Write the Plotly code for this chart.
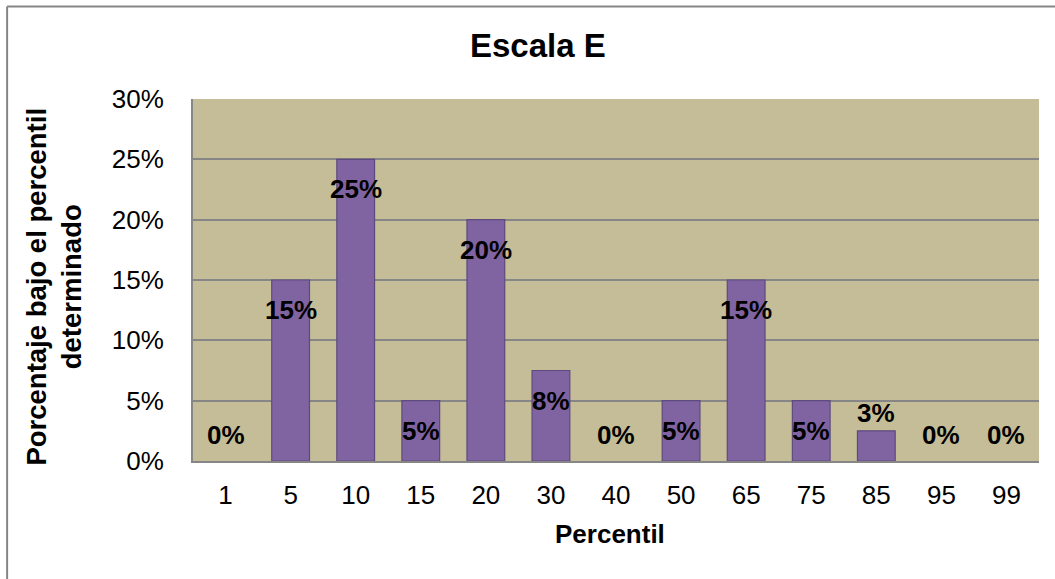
import plotly.graph_objects as go

categories = ["1", "5", "10", "15", "20", "30", "40", "50", "65", "75", "85", "95", "99"]
values = [0.0, 0.15, 0.25, 0.05, 0.20, 0.075, 0.0, 0.05, 0.15, 0.05, 0.025, 0.0, 0.0]
y_ticks = [0, 0.05, 0.10, 0.15, 0.20, 0.25, 0.30]
y_tick_labels = ["0%", "5%", "10%", "15%", "20%", "25%", "30%"]

title_text = "Escala E"
x_title = "Percentil"
y_title = "Porcentaje bajo el percentil<br>determinado"

FONT = "Liberation Sans, Arial, sans-serif"
W, H = 1055, 579
L, R, T, B = 192.5, 1039, 99, 461

fig = go.Figure()
fig.add_trace(go.Bar(
    x=categories, y=values,
    marker=dict(color="#8064A2",
                line=dict(color="#5E4A7E", width=[1.2 if v > 0 else 0 for v in values])),
    hoverinfo="skip",
))

def label_text(v):
    return f"{int(v * 100 + 0.5)}%"

def label_shift(v):
    if v == 0:
        return 26
    if v < 0.04:
        return 18
    return -30

for i, v in enumerate(values):
    fig.add_annotation(x=i, y=v, xref="x", yref="y", text=label_text(v),
                       showarrow=False, yanchor="middle", yshift=label_shift(v),
                       font=dict(family=FONT, size=26, color="black", weight="bold"))

def px_x(p):
    return (p - L) / (R - L)

def px_y(p):
    return (B - p) / (B - T)

fig.add_annotation(x=px_x(538), y=px_y(46), xref="paper", yref="paper", text=title_text,
                   showarrow=False, xanchor="center", yanchor="middle",
                   font=dict(family=FONT, size=33, color="black", weight="bold"))
fig.add_annotation(x=px_x(609.5), y=px_y(534), xref="paper", yref="paper", text=x_title,
                   showarrow=False, xanchor="center", yanchor="middle",
                   font=dict(family=FONT, size=26, color="black", weight="bold"))
fig.add_annotation(x=px_x(53), y=px_y(287), xref="paper", yref="paper", text=y_title,
                   showarrow=False, xanchor="center", yanchor="middle", textangle=-90,
                   font=dict(family=FONT, size=27.5, color="black", weight="bold"))

# outer chart border (top and left visible)
fig.add_shape(type="line", xref="paper", yref="paper",
              x0=px_x(6.5), y0=px_y(6.5), x1=px_x(1060), y1=px_y(6.5),
              line=dict(color="#868686", width=2))
fig.add_shape(type="line", xref="paper", yref="paper",
              x0=px_x(6.5), y0=px_y(6.5), x1=px_x(6.5), y1=px_y(590),
              line=dict(color="#868686", width=2))

fig.update_layout(
    width=W, height=H,
    margin=dict(l=L, r=W - R, t=T, b=H - B, autoexpand=False),
    paper_bgcolor="white", plot_bgcolor="#C4BD97",
    showlegend=False, bargap=0.42,
    font=dict(family=FONT, size=26, color="black"),
)
fig.update_xaxes(type="category", range=[-0.5, len(categories) - 0.5],
                 showline=True, linecolor="#868686", linewidth=2, showgrid=False,
                 ticks="", ticklabelstandoff=10, tickfont=dict(size=26, color="black"),
                 fixedrange=True)
fig.update_yaxes(range=[0, 0.3], tickvals=y_ticks, ticktext=y_tick_labels,
                 showline=True, linecolor="#868686", linewidth=2,
                 showgrid=True, gridcolor="#868686", gridwidth=2, zeroline=False,
                 ticks="", ticklabelstandoff=22, tickfont=dict(size=26, color="black"),
                 fixedrange=True)

fig.write_html("out.html", config={"displayModeBar": False})

with open("out.html", "r", encoding="utf-8") as f:
    html = f.read()
html = html.replace("<head>", "<head><style>html,body{margin:0;padding:0;overflow:hidden;}</style>", 1)
with open("out.html", "w", encoding="utf-8") as f:
    f.write(html)
